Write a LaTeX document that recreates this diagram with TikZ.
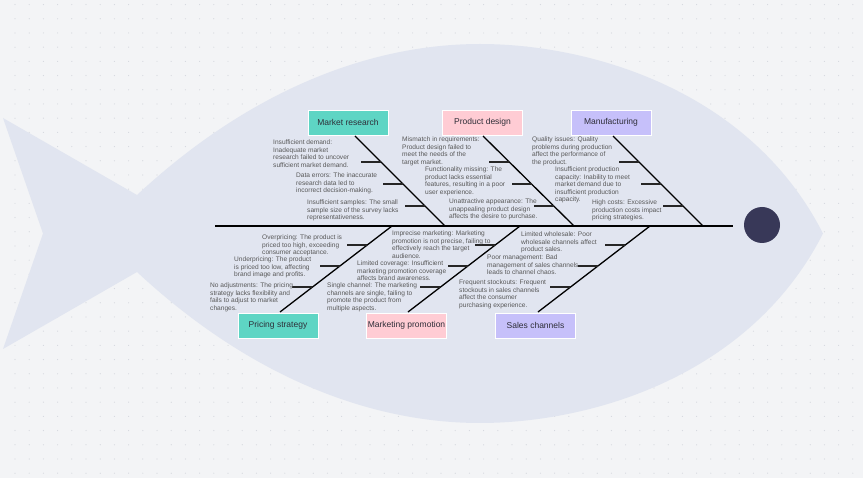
\documentclass[tikz,border=0pt]{standalone}
\usepackage{fontspec}
\setmainfont{Liberation Sans}
\usepackage{tikz}
\usetikzlibrary{calc}
\usepackage{xcolor}
\definecolor{paper}{HTML}{F3F4F6}
\definecolor{griddot}{HTML}{D5D8DE}
\definecolor{fishbody}{HTML}{E1E5F0}
\definecolor{fisheye}{HTML}{383858}
\definecolor{teal}{HTML}{5ED5C4}
\definecolor{rose}{HTML}{FFCCD4}
\definecolor{lilac}{HTML}{C6C0FA}
\definecolor{causetext}{HTML}{585858}
\definecolor{boxtext}{HTML}{2E2E38}

\begin{document}
\begin{tikzpicture}[
  x=1pt, y=-1pt,
  catbox/.style={draw=white, line width=0.8pt, minimum width=80pt, minimum height=25pt,
                 inner sep=0pt, text=boxtext, font=\fontsize{8.5}{10}\selectfont},
  cause/.style={anchor=north west, inner sep=0pt, align=left, text=causetext,
                font=\fontsize{6.6}{7.5}\selectfont},
  spine/.style={line width=2.6pt, black},
  bone/.style={line width=1.3pt, black},
  tick/.style={line width=1.8pt, black!85},
]
% Paper and dot grid
\useasboundingbox (0,0) rectangle (863,478);
\fill[paper] (0,0) rectangle (863,478);
\foreach \x in {15,29.2,...,862}
  \foreach \y in {4.6,18.8,...,478}
    \fill[griddot] (\x,\y) circle (0.6pt);

% Fish outline
\fill[fishbody] (137,195) -- (3,118) -- (43,233.5) -- (3,349) -- (137,272)
  .. controls (250,377) and (370,423) .. (480,423)
  .. controls (590,423) and (750,377) .. (823,233.5)
  .. controls (750,90) and (590,44) .. (480,44)
  .. controls (370,44) and (250,90) .. cycle;

% Spine and eye
\coordinate (tail) at (215,226);
\coordinate (head) at (733,226);
\draw[spine] (tail) -- (head);
\node[circle, fill=fisheye, minimum size=36pt, inner sep=0pt] (eye) at (762,225) {};

% Category boxes
\node[catbox, fill=teal] (mr) at (348,122.5) {Market research};
\node[catbox, fill=rose] (pd) at (482.5,122.5) {Product design};
\node[catbox, fill=lilac] (mf) at (611,122.5) {Manufacturing};
\node[catbox, fill=teal] (ps) at (278,325.5) {Pricing strategy};
\node[catbox, fill=rose] (mp) at (406.5,325.5) {Marketing promotion};
\node[catbox, fill=lilac] (sc) at (535.5,325.5) {Sales channels};

% Bones (a = box end, b = spine end)
\coordinate (mr-a) at (355,136); \coordinate (mr-b) at (445,226);
\coordinate (pd-a) at (483,136); \coordinate (pd-b) at (574,226);
\coordinate (mf-a) at (613,136); \coordinate (mf-b) at (703,226);
\coordinate (ps-a) at (280,312); \coordinate (ps-b) at (392,226);
\coordinate (mp-a) at (408,312); \coordinate (mp-b) at (520,226);
\coordinate (sc-a) at (538,312); \coordinate (sc-b) at (650,226);
\foreach \b in {mr,pd,mf,ps,mp,sc} {
  \draw[bone] (\b-a) -- (\b-b);
  \foreach \f in {0.29,0.535,0.775}
    \draw[tick] ($(\b-a)!\f!(\b-b)$) -- ++(-20,0);
}

% Causes: top
\node[cause] (mr1) at (273,140) {Insufficient demand:\\Inadequate market\\research failed to uncover\\sufficient market demand.};
\node[cause] (mr2) at (296,173) {Data errors: The inaccurate\\research data led to\\incorrect decision-making.};
\node[cause] (mr3) at (307,200) {Insufficient samples: The small\\sample size of the survey lacks\\representativeness.};
\node[cause] (pd1) at (402,137) {Mismatch in requirements:\\Product design failed to\\meet the needs of the\\target market.};
\node[cause] (pd2) at (425,167) {Functionality missing: The\\product lacks essential\\features, resulting in a poor\\user experience.};
\node[cause] (pd3) at (449,199) {Unattractive appearance: The\\unappealing product design\\affects the desire to purchase.};
\node[cause] (mf1) at (532,137) {Quality issues: Quality\\problems during production\\affect the performance of\\the product.};
\node[cause] (mf2) at (555,167) {Insufficient production\\capacity: Inability to meet\\market demand due to\\insufficient production\\capacity.};
\node[cause] (mf3) at (592,200) {High costs: Excessive\\production costs impact\\pricing strategies.};

% Causes: bottom
\node[cause] (ps1) at (262,235) {Overpricing: The product is\\priced too high, exceeding\\consumer acceptance.};
\node[cause] (ps2) at (234,257) {Underpricing: The product\\is priced too low, affecting\\brand image and profits.};
\node[cause] (ps3) at (210,283) {No adjustments: The pricing\\strategy lacks flexibility and\\fails to adjust to market\\changes.};
\node[cause] (mp1) at (392,231) {Imprecise marketing: Marketing\\promotion is not precise, failing to\\effectively reach the target\\audience.};
\node[cause] (mp2) at (357,261) {Limited coverage: Insufficient\\marketing promotion coverage\\affects brand awareness.};
\node[cause] (mp3) at (327,283) {Single channel: The marketing\\channels are single, failing to\\promote the product from\\multiple aspects.};
\node[cause] (sc1) at (521,232) {Limited wholesale: Poor\\wholesale channels affect\\product sales.};
\node[cause] (sc2) at (487,255) {Poor management: Bad\\management of sales channels\\leads to channel chaos.};
\node[cause] (sc3) at (459,280) {Frequent stockouts: Frequent\\stockouts in sales channels\\affect the consumer\\purchasing experience.};
\end{tikzpicture}
\end{document}
